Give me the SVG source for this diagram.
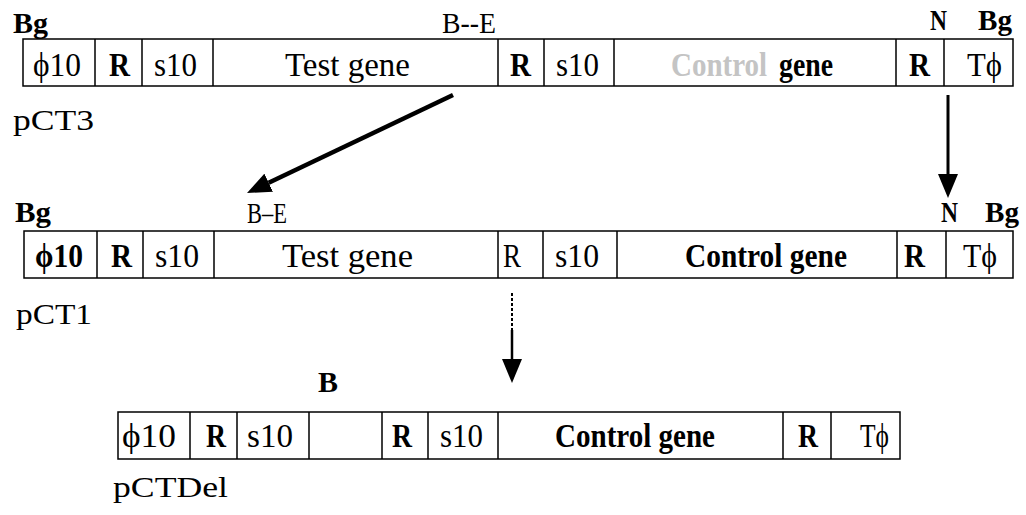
<svg xmlns="http://www.w3.org/2000/svg" width="1026" height="515" viewBox="0 0 1026 515">
  <style>
    text { font-family: "Liberation Serif", "Times New Roman", serif; font-size: 30px; fill: #000; }
    .c { font-size: 33px; }
    .b { font-weight: bold; }
    .seg { fill: #fff; stroke: #000; stroke-width: 1.5; }
    .div { stroke: #000; stroke-width: 1.5; }
    .faded { fill: #c4c4c4; }
    .link { stroke: #000; fill: none; }
  </style>
  <defs>
    <marker id="head" viewBox="0 0 24 20" refX="0" refY="10" markerWidth="24" markerHeight="20" markerUnits="userSpaceOnUse" orient="auto">
      <path d="M0,0 L24,10 L0,20 z" fill="#000"/>
    </marker>
  </defs>

  <!-- construct pCT3 -->
  <g id="pCT3">
    <rect class="seg" x="23" y="39" width="990" height="47"/>
    <path class="div" d="M95,39V86M142,39V86M213,39V86M498,39V86M544,39V86M614,39V86M896,39V86M944,39V86"/>
    <text class="b" x="13" y="33" textLength="35" lengthAdjust="spacingAndGlyphs">Bg</text>
    <text x="442" y="33" textLength="54" lengthAdjust="spacingAndGlyphs">B--E</text>
    <text class="b" x="930" y="30" textLength="17" lengthAdjust="spacingAndGlyphs">N</text>
    <text class="b" x="978" y="30" textLength="34" lengthAdjust="spacingAndGlyphs">Bg</text>
    <text class="c" x="33" y="76" textLength="48" lengthAdjust="spacingAndGlyphs">ϕ10</text>
    <text class="c b" x="109" y="76" textLength="21" lengthAdjust="spacingAndGlyphs">R</text>
    <text class="c" x="154" y="76" textLength="43" lengthAdjust="spacingAndGlyphs">s10</text>
    <text class="c" x="285" y="76" textLength="125" lengthAdjust="spacingAndGlyphs">Test gene</text>
    <text class="c b" x="510" y="76" textLength="21" lengthAdjust="spacingAndGlyphs">R</text>
    <text class="c" x="556" y="76" textLength="43" lengthAdjust="spacingAndGlyphs">s10</text>
    <!-- worn print: first word of the label barely shows -->
    <text class="c b faded" x="671" y="76" textLength="96" lengthAdjust="spacingAndGlyphs">Control</text>
    <text class="c b" x="779" y="76" textLength="54" lengthAdjust="spacingAndGlyphs">gene</text>
    <text class="c b" x="909" y="76" textLength="21" lengthAdjust="spacingAndGlyphs">R</text>
    <text class="c" x="967" y="76" textLength="35" lengthAdjust="spacingAndGlyphs">Tϕ</text>
    <text x="13" y="130" textLength="81" lengthAdjust="spacingAndGlyphs">pCT3</text>
  </g>

  <!-- construct pCT1 -->
  <g id="pCT1">
    <rect class="seg" x="24" y="231" width="989" height="47"/>
    <path class="div" d="M97,231V278M143,231V278M214,231V278M498,231V278M543,231V278M617,231V278M897,231V278M946,231V278"/>
    <text class="b" x="15" y="222" textLength="36" lengthAdjust="spacingAndGlyphs">Bg</text>
    <text x="247" y="223" textLength="40" lengthAdjust="spacingAndGlyphs">B–E</text>
    <text class="b" x="941" y="222" textLength="17" lengthAdjust="spacingAndGlyphs">N</text>
    <text class="b" x="985" y="222" textLength="34" lengthAdjust="spacingAndGlyphs">Bg</text>
    <text class="c b" x="35" y="267" textLength="48" lengthAdjust="spacingAndGlyphs">ϕ10</text>
    <text class="c b" x="111" y="267" textLength="21" lengthAdjust="spacingAndGlyphs">R</text>
    <text class="c" x="155" y="267" textLength="44" lengthAdjust="spacingAndGlyphs">s10</text>
    <text class="c" x="282" y="267" textLength="131" lengthAdjust="spacingAndGlyphs">Test gene</text>
    <text class="c" x="503" y="267" textLength="18" lengthAdjust="spacingAndGlyphs">R</text>
    <text class="c" x="555" y="267" textLength="44" lengthAdjust="spacingAndGlyphs">s10</text>
    <text class="c b" x="685" y="267" textLength="162" lengthAdjust="spacingAndGlyphs">Control gene</text>
    <text class="c b" x="904" y="267" textLength="21" lengthAdjust="spacingAndGlyphs">R</text>
    <text class="c" x="963" y="267" textLength="34" lengthAdjust="spacingAndGlyphs">Tϕ</text>
    <text x="16" y="324" textLength="76" lengthAdjust="spacingAndGlyphs">pCT1</text>
  </g>

  <!-- construct pCTDel -->
  <g id="pCTDel">
    <rect class="seg" x="118" y="412" width="782" height="47"/>
    <path class="div" d="M190,412V459M237,412V459M309,412V459M382,412V459M428,412V459M498,412V459M783,412V459M831,412V459"/>
    <text class="b" x="318" y="392" textLength="20" lengthAdjust="spacingAndGlyphs">B</text>
    <text class="c" x="122" y="447" textLength="54" lengthAdjust="spacingAndGlyphs">ϕ10</text>
    <text class="c b" x="206" y="447" textLength="20" lengthAdjust="spacingAndGlyphs">R</text>
    <text class="c" x="247" y="447" textLength="46" lengthAdjust="spacingAndGlyphs">s10</text>
    <text class="c b" x="392" y="447" textLength="20" lengthAdjust="spacingAndGlyphs">R</text>
    <text class="c" x="440" y="447" textLength="43" lengthAdjust="spacingAndGlyphs">s10</text>
    <text class="c b" x="555" y="447" textLength="160" lengthAdjust="spacingAndGlyphs">Control gene</text>
    <text class="c b" x="798" y="447" textLength="20" lengthAdjust="spacingAndGlyphs">R</text>
    <text class="c" x="860" y="447" textLength="29" lengthAdjust="spacingAndGlyphs">Tϕ</text>
    <text x="113" y="497" textLength="115" lengthAdjust="spacingAndGlyphs">pCTDel</text>
  </g>

  <!-- connectors -->
  <g id="connectors">
    <line class="link" x1="453" y1="95" x2="268.7" y2="182.7" stroke-width="4.5" marker-end="url(#head)"/>
    <line class="link" x1="948" y1="95" x2="948" y2="174" stroke-width="3" marker-end="url(#head)"/>
    <line class="link" x1="512" y1="293" x2="512" y2="330" stroke-width="2" stroke-dasharray="3 2"/>
    <line class="link" x1="512" y1="330" x2="512" y2="359" stroke-width="2.5" marker-end="url(#head)"/>
  </g>
</svg>
